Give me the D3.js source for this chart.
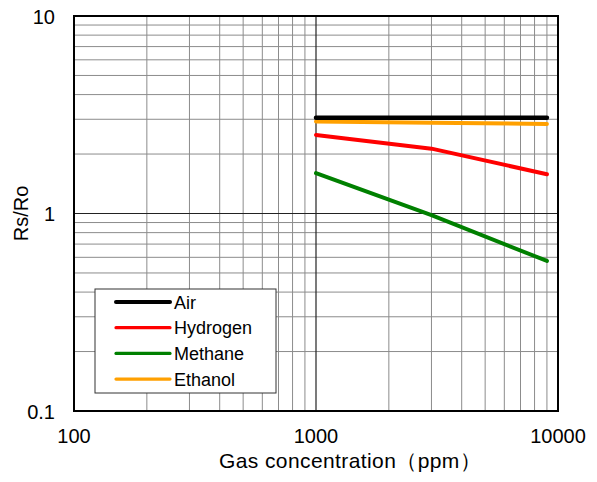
<!DOCTYPE html>
<html>
<head>
<meta charset="utf-8">
<script src="https://cdn.jsdelivr.net/npm/d3@7"></script>
<style>
  body { margin: 0; background: #fff; }
  text { font-family: Arial, "Liberation Sans", sans-serif; fill: #000; }
</style>
</head>
<body>
<svg id="chart" width="597" height="482"></svg>
<script>
// gas concentration (ppm)
var concentrations = [1000, 3000, 9000];
var airValues = [3.05, 3.05, 3.05];
var hydrogenValues = [2.5, 2.13, 1.58];
var methaneValues = [1.6, 0.98, 0.575];
var ethanolValues = [2.92, 2.88, 2.84];

var seriesNames = ['Air', 'Hydrogen', 'Methane', 'Ethanol'];
var seriesColors = ['#000000', '#ff0000', '#008000', '#ffa000'];
var seriesWidths = [4.5, 4, 4, 4];

var xTickValues = [100, 1000, 10000];
var yTickValues = [0.1, 1, 10];
var xTickLabels = ['100', '1000', '10000'];
var yTickLabels = ['0.1', '1', '10'];

var margin = { left: 74, top: 16, right: 39, bottom: 71 };
var width = 597 - margin.left - margin.right;
var height = 482 - margin.top - margin.bottom;

var svg = d3.select('#chart');
var g = svg.append('g').attr('transform', 'translate(' + margin.left + ',' + margin.top + ')');

var x = d3.scaleLog().domain([100, 10000]).range([0, width]);
var y = d3.scaleLog().domain([0.1, 10]).range([height, 0]);

// minor grid
var xMinor = [];
var yMinor = [];
[100, 1000].forEach(function (d) {
    for (var k = 2; k <= 9; k++) xMinor.push(d * k);
});
[0.1, 1].forEach(function (d) {
    for (var k = 2; k <= 9; k++) yMinor.push(d * k);
});

g.selectAll('.vminor').data(xMinor).enter().append('line')
    .attr('x1', x).attr('x2', x).attr('y1', 0).attr('y2', height)
    .attr('stroke', '#8c8c8c').attr('stroke-width', 1);

g.selectAll('.hminor').data(yMinor).enter().append('line')
    .attr('y1', y).attr('y2', y).attr('x1', 0).attr('x2', width)
    .attr('stroke', '#8c8c8c').attr('stroke-width', 1);

// decade lines
g.append('line')
    .attr('x1', x(1000)).attr('x2', x(1000)).attr('y1', 0).attr('y2', height)
    .attr('stroke', '#222').attr('stroke-width', 1.2);
g.append('line')
    .attr('y1', y(1)).attr('y2', y(1)).attr('x1', 0).attr('x2', width)
    .attr('stroke', '#222').attr('stroke-width', 1.2);

// frame
g.append('rect')
    .attr('x', 0).attr('y', 0).attr('width', width).attr('height', height)
    .attr('fill', 'none').attr('stroke', '#000').attr('stroke-width', 2);

// tick labels
g.selectAll('.xlab').data(xTickValues).enter().append('text')
    .attr('x', x).attr('y', height + 32)
    .attr('text-anchor', 'middle')
    .style('font-size', '20px')
    .text(function (d, i) { return xTickLabels[i]; });

g.selectAll('.ylab').data(yTickValues).enter().append('text')
    .attr('x', -19).attr('y', function (d) { return y(d) + 7.5; })
    .attr('text-anchor', 'end')
    .style('font-size', '20px')
    .text(function (d, i) { return yTickLabels[i]; });

// axis titles
svg.append('text')
    .attr('x', 219).attr('y', 468)
    .attr('text-anchor', 'start')
    .style('font-size', '21px')
    .style('letter-spacing', '0.4px')
    .text('Gas concentration（ppm）');

svg.append('text')
    .attr('transform', 'translate(28,' + (margin.top + y(1)) + ') rotate(-90)')
    .attr('text-anchor', 'middle')
    .style('font-size', '20px')
    .text('Rs/Ro');

// data lines
var allValues = [airValues, hydrogenValues, methaneValues, ethanolValues];
var line = d3.line()
    .x(function (d) { return x(d[0]); })
    .y(function (d) { return y(d[1]); });

// draw ethanol under air
var drawOrder = [3, 2, 1, 0];
drawOrder.forEach(function (i) {
    var pts = concentrations.map(function (c, j) { return [c, allValues[i][j]]; });
    g.append('path')
        .datum(pts)
        .attr('d', line)
        .attr('fill', 'none')
        .attr('stroke', seriesColors[i])
        .attr('stroke-width', seriesWidths[i])
        .attr('stroke-linecap', 'round')
        .attr('stroke-linejoin', 'round');
});

// legend
var legend = svg.append('g').attr('transform', 'translate(95,289)');
legend.append('rect')
    .attr('x', 0).attr('y', 0).attr('width', 181).attr('height', 104)
    .attr('fill', '#fff').attr('stroke', '#333').attr('stroke-width', 1);

var item = legend.selectAll('.item').data(seriesNames).enter().append('g')
    .attr('transform', function (d, i) { return 'translate(0,' + (13 + i * 25.7) + ')'; });

item.append('line')
    .attr('x1', 21).attr('x2', 75).attr('y1', 0).attr('y2', 0)
    .attr('stroke', function (d, i) { return seriesColors[i]; })
    .attr('stroke-width', function (d, i) { return i === 0 ? 4 : 3.2; })
    .attr('stroke-linecap', 'round');

item.append('text')
    .attr('x', 79).attr('y', 6.5)
    .style('font-size', '18px')
    .text(function (d) { return d; });
</script>
</body>
</html>
